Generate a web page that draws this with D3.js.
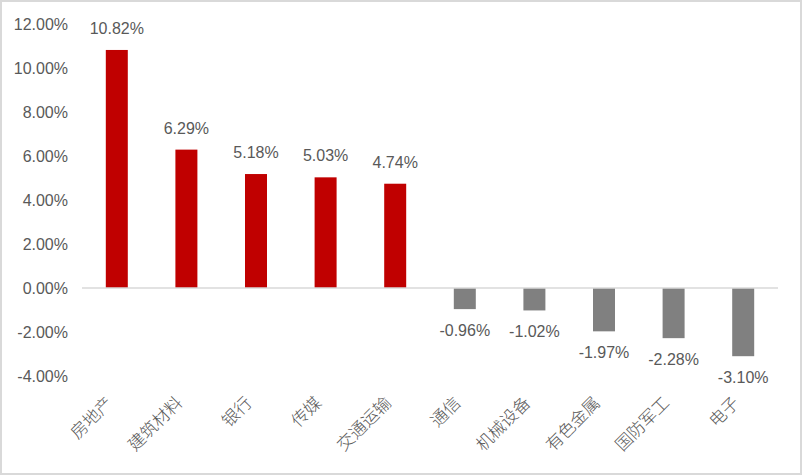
<!DOCTYPE html>
<html><head><meta charset="utf-8">
<script src="https://cdn.jsdelivr.net/npm/d3@7/dist/d3.min.js"></script>
<style>
html,body{margin:0;padding:0;background:#fff;}
svg{display:block;}
</style></head>
<body>
<svg id="c" width="802" height="475"></svg>
<script>
const categories = ["房地产","建筑材料","银行","传媒","交通运输","通信","机械设备","有色金属","国防军工","电子"];
const values = [10.82, 6.29, 5.18, 5.03, 4.74, -0.96, -1.02, -1.97, -2.28, -3.10];
const yTicks = [12, 10, 8, 6, 4, 2, 0, -2, -4];

const W = 802, H = 475;
const svg = d3.select("#c");
const numFont = "'Liberation Sans Narrow','Liberation Sans',Arial,sans-serif";
const cjkFont = "'Noto Sans CJK SC','Liberation Sans',sans-serif";
const textColor = "#595959";

svg.append("rect").attr("x",1).attr("y",1).attr("width",W-2).attr("height",H-2)
  .attr("fill","#fff").attr("stroke","#d9d9d9").attr("stroke-width",2);

const x = d3.scaleBand().domain(categories).range([82, 778]).paddingInner(0.684).paddingOuter(0.342);
const y = d3.scaleLinear().domain([-4, 12]).range([376, 24]);

// y axis labels
const yAxis = d3.axisLeft(y).tickValues(yTicks).tickSize(0).tickPadding(0)
  .tickFormat(d => d.toFixed(2) + "%");
const ya = svg.append("g").attr("transform","translate(68,0)").call(yAxis);
ya.select(".domain").remove();
ya.selectAll("text").attr("fill",textColor).style("font-family",numFont).style("font-size","16px");

// bars
svg.append("g").selectAll("rect").data(values).join("rect")
  .attr("x",(d,i)=>x(categories[i]))
  .attr("width",x.bandwidth())
  .attr("y",d=>d>=0?y(d):y(0))
  .attr("height",d=>Math.abs(y(d)-y(0)))
  .attr("fill",d=>d>=0?"#C00000":"#808080");

// zero line
svg.append("line").attr("x1",82).attr("x2",778).attr("y1",y(0)).attr("y2",y(0))
  .attr("stroke","#d9d9d9").attr("stroke-width",1.5);

// value labels
svg.append("g").selectAll("text").data(values).join("text")
  .attr("x",(d,i)=>x(categories[i])+x.bandwidth()/2)
  .attr("y",d=>d>=0?y(d)-16:y(d)+27)
  .attr("text-anchor","middle")
  .attr("fill",textColor).style("font-family",numFont).style("font-size","16px")
  .text(d=>d.toFixed(2)+"%");

// category labels
const xg = svg.append("g");
xg.selectAll("text").data(categories).join("text")
  .attr("transform",d=>`translate(${x(d)+x.bandwidth()/2-3},${404}) rotate(-45)`)
  .attr("text-anchor","end")
  .attr("fill",textColor).style("font-family",cjkFont).style("font-weight","300").style("font-size","17px")
  .text(d=>d);
</script>
</body></html>
